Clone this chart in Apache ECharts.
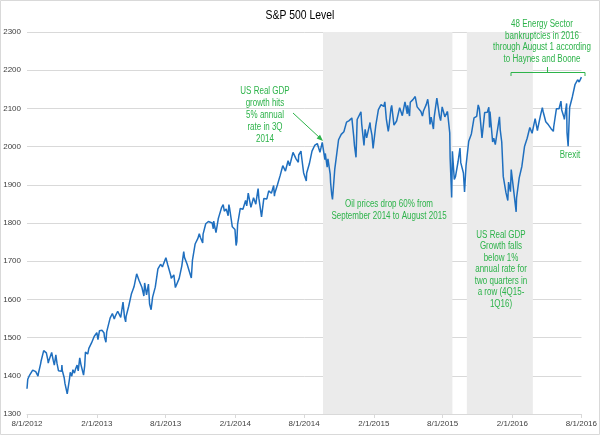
<!DOCTYPE html>
<html><head><meta charset="utf-8">
<script src="https://cdn.jsdelivr.net/npm/echarts@6/dist/echarts.min.js"></script>
<style>html,body{margin:0;padding:0;background:#fff}#c{width:600px;height:435px}</style>
</head><body><div id="c"></div>
<script>
// ---- data ----
const dates = [
'2012-08-01','2012-08-03','2012-08-08','2012-08-10','2012-08-16','2012-08-17','2012-08-21','2012-08-24','2012-08-28','2012-08-30','2012-08-31',
'2012-09-04','2012-09-06','2012-09-07','2012-09-12','2012-09-14','2012-09-19','2012-09-21','2012-09-25','2012-09-26','2012-09-28',
'2012-10-02','2012-10-05','2012-10-09','2012-10-12','2012-10-16','2012-10-18','2012-10-19','2012-10-23','2012-10-26','2012-10-31',
'2012-11-01','2012-11-02','2012-11-07','2012-11-09','2012-11-15','2012-11-16','2012-11-21','2012-11-23','2012-11-27','2012-11-30',
'2012-12-04','2012-12-07','2012-12-11','2012-12-14','2012-12-18','2012-12-21','2012-12-28','2012-12-31',
'2013-01-02','2013-01-04','2013-01-08','2013-01-11','2013-01-15','2013-01-18','2013-01-25','2013-01-30','2013-02-01','2013-02-04',
'2013-02-08','2013-02-15','2013-02-20','2013-02-21','2013-02-25','2013-02-27','2013-03-01','2013-03-08','2013-03-14','2013-03-19',
'2013-03-22','2013-03-28','2013-04-05','2013-04-11','2013-04-15','2013-04-18','2013-04-19','2013-04-26','2013-05-01','2013-05-03',
'2013-05-10','2013-05-17','2013-05-21','2013-05-23','2013-05-31','2013-06-05','2013-06-07','2013-06-12','2013-06-17','2013-06-20',
'2013-06-24','2013-06-28','2013-07-05','2013-07-12','2013-07-19','2013-07-24','2013-07-26','2013-08-02','2013-08-07','2013-08-09',
'2013-08-15','2013-08-16','2013-08-20','2013-08-23','2013-08-27','2013-08-30','2013-09-06','2013-09-13','2013-09-18','2013-09-20',
'2013-09-27','2013-10-01','2013-10-08','2013-10-11','2013-10-18','2013-10-25','2013-10-29','2013-11-01','2013-11-07','2013-11-08',
'2013-11-15','2013-11-22','2013-11-27','2013-12-02','2013-12-05','2013-12-06','2013-12-12','2013-12-13','2013-12-18','2013-12-20',
'2013-12-27','2013-12-31',
'2014-01-03','2014-01-08','2014-01-10','2014-01-13','2014-01-15','2014-01-17','2014-01-24','2014-01-28','2014-01-31','2014-02-03',
'2014-02-05','2014-02-07','2014-02-14','2014-02-21','2014-02-28','2014-03-03','2014-03-07','2014-03-14','2014-03-21','2014-03-27',
'2014-03-28','2014-04-02','2014-04-04','2014-04-11','2014-04-17','2014-04-25','2014-04-30','2014-05-02','2014-05-07','2014-05-09',
'2014-05-13','2014-05-15','2014-05-16','2014-05-23','2014-05-30','2014-06-06','2014-06-13','2014-06-20','2014-06-24','2014-06-27',
'2014-07-03','2014-07-11','2014-07-17','2014-07-18','2014-07-24','2014-07-25','2014-07-31','2014-08-07','2014-08-08','2014-08-15',
'2014-08-22','2014-08-29','2014-09-05','2014-09-12','2014-09-18','2014-09-19','2014-09-25','2014-09-26','2014-10-01','2014-10-03',
'2014-10-09','2014-10-10','2014-10-13','2014-10-15','2014-10-17','2014-10-21','2014-10-24','2014-10-31','2014-11-07','2014-11-14',
'2014-11-21','2014-11-28','2014-12-05','2014-12-10','2014-12-12','2014-12-16','2014-12-19','2014-12-29','2014-12-31',
'2015-01-02','2015-01-06','2015-01-09','2015-01-13','2015-01-16','2015-01-22','2015-01-23','2015-01-27','2015-01-30','2015-02-06',
'2015-02-13','2015-02-20','2015-02-25','2015-02-27','2015-03-02','2015-03-06','2015-03-11','2015-03-13','2015-03-18','2015-03-20',
'2015-03-26','2015-03-27','2015-04-02','2015-04-10','2015-04-17','2015-04-24','2015-04-30','2015-05-01','2015-05-06','2015-05-08',
'2015-05-15','2015-05-21','2015-05-26','2015-05-29','2015-06-05','2015-06-09','2015-06-12','2015-06-19','2015-06-23','2015-06-26',
'2015-06-29','2015-07-02','2015-07-08','2015-07-10','2015-07-17','2015-07-20','2015-07-24','2015-07-27','2015-07-31','2015-08-05',
'2015-08-07','2015-08-14','2015-08-18','2015-08-20','2015-08-21','2015-08-24','2015-08-25','2015-08-27','2015-08-28','2015-09-01',
'2015-09-04','2015-09-11','2015-09-16','2015-09-18','2015-09-25','2015-09-28','2015-10-02','2015-10-09','2015-10-16','2015-10-23',
'2015-10-30','2015-11-03','2015-11-06','2015-11-13','2015-11-20','2015-11-27','2015-12-01','2015-12-03','2015-12-04','2015-12-11',
'2015-12-14','2015-12-18','2015-12-29','2015-12-31',
'2016-01-04','2016-01-08','2016-01-15','2016-01-20','2016-01-22','2016-01-27','2016-01-29','2016-02-05','2016-02-11','2016-02-12',
'2016-02-19','2016-02-26','2016-03-04','2016-03-11','2016-03-18','2016-03-24','2016-04-01','2016-04-07','2016-04-08','2016-04-15',
'2016-04-20','2016-04-22','2016-04-29','2016-05-06','2016-05-13','2016-05-19','2016-05-20','2016-05-27','2016-06-03','2016-06-08',
'2016-06-10','2016-06-16','2016-06-17','2016-06-23','2016-06-24','2016-06-27','2016-07-01','2016-07-08','2016-07-15','2016-07-22',
'2016-07-26','2016-07-29','2016-08-01'
];
const spx = [
1366,1391,1402,1406,1415,1418,1413,1411,1410,1399,1406,
1404,1432,1438,1436,1466,1461,1460,1441,1433,1441,
1445,1461,1441,1428,1455,1457,1433,1413,1411,1412,
1428,1414,1395,1380,1353,1359,1392,1409,1399,1416,
1407,1418,1428,1413,1447,1430,1402,1426,
1462,1466,1457,1472,1472,1486,1503,1501,1513,1495,
1518,1519,1512,1502,1488,1515,1518,1551,1563,1549,
1557,1569,1553,1593,1553,1541,1555,1582,1582,1614,
1633,1667,1669,1650,1631,1609,1643,1612,1640,1588,
1573,1606,1632,1680,1692,1685,1691,1709,1690,1691,
1662,1655,1652,1664,1631,1633,1655,1688,1725,1710,
1692,1695,1656,1703,1745,1759,1772,1762,1748,1771,
1798,1804,1807,1800,1785,1805,1775,1775,1811,1818,
1841,1848,
1831,1837,1842,1819,1848,1838,1790,1792,1783,1741,
1751,1797,1838,1836,1859,1845,1878,1841,1866,1849,
1857,1890,1865,1816,1864,1863,1884,1881,1878,1878,
1898,1870,1878,1900,1924,1950,1936,1963,1950,1961,
1985,1968,1959,1978,1988,1978,1931,1910,1931,1955,
1988,2003,2008,1985,2011,2010,1966,1982,1946,1968,
1928,1906,1874,1862,1887,1941,1964,2018,2032,2039,
2064,2068,2075,2026,2002,1972,2071,2091,2059,
2058,2003,2045,2023,2019,2063,2051,2030,1995,2055,
2097,2110,2114,2105,2117,2071,2040,2053,2099,2108,
2056,2061,2067,2102,2081,2117,2086,2108,2080,2116,
2123,2131,2104,2107,2092,2080,2094,2110,2124,2101,
2058,2077,2046,2077,2127,2128,2079,2068,2104,2100,
2078,2092,2096,2036,1971,1893,1867,1988,1989,1914,
1921,1961,1996,1958,1931,1881,1951,2014,2033,2075,
2079,2109,2099,2023,2089,2090,2103,2050,2092,2012,
2022,2005,2078,2044,
2012,1922,1880,1859,1907,1882,1940,1880,1829,1865,
1918,1948,2000,2022,2050,2035,2073,2042,2048,2081,
2102,2092,2065,2057,2047,2040,2052,2099,2099,2119,
2096,2077,2071,2113,2037,2001,2103,2130,2162,2175,
2169,2174,2182
];
const tickDates = ['2012-08-01','2013-02-01','2013-08-01','2014-02-01','2014-08-01','2015-02-01','2015-08-01','2016-02-01','2016-08-01'];
const tickLabels = ['8/1/2012','2/1/2013','8/1/2013','2/1/2014','8/1/2014','2/1/2015','8/1/2015','2/1/2016','8/1/2016'];
const shadedRanges = [['2014-09-20','2015-08-27'],['2015-10-04','2016-03-26']];
const yMin = 1300, yMax = 2300, yStep = 100;

function ts(s){ const p = s.split('-'); return Date.UTC(+p[0], +p[1]-1, +p[2]); }
const tickTs = tickDates.map(ts);
const series = dates.map((d,i)=>[ts(d), spx[i]]);

const GREEN = '#2db34a';
const FONT = "'Liberation Sans',Arial,sans-serif";
const SX = 0.8; // emulate the narrow typeface of the original

function txt(lines, cx, cy0, lh, size, color){
  return { type:'text', silent:true, z:100, x:cx, y:cy0 - lh/2, scaleX:SX,
    style:{ text: lines.join('\n'), x:0, y:0, align:'center', verticalAlign:'top',
      lineHeight: lh, fill: color || GREEN, font: (size||10)+'px ' + FONT } };
}

const chart = echarts.init(document.getElementById('c'), null, {renderer:'canvas'});
chart.setOption({
  animation:false,
  backgroundColor:'#fff',
  grid:{ left:27, right:16, top:32, bottom:21, containLabel:false },
  xAxis:{ type:'value', min:tickTs[0], max:tickTs[tickTs.length-1],
    axisLine:{ show:true, lineStyle:{ color:'#d9d9d9' } },
    axisTick:{ show:true, customValues: tickTs, length:4, lineStyle:{ color:'#d9d9d9' } },
    axisLabel:{ customValues: tickTs, fontSize:8, color:'#404040', fontFamily:FONT, margin:6,
      formatter:(v)=>{ const i = tickTs.indexOf(v); return i>=0 ? tickLabels[i] : ''; } },
    splitLine:{ show:false } },
  yAxis:{ type:'value', min:yMin, max:yMax, interval:yStep,
    axisLine:{ show:false }, axisTick:{ show:false },
    axisLabel:{ fontSize:8, color:'#404040', fontFamily:FONT, margin:6, formatter:(v)=>String(v) },
    splitLine:{ show:true, lineStyle:{ color:'#d9d9d9', width:1 } } },
  series:[{
    type:'line', data: series, showSymbol:false, symbol:'none',
    lineStyle:{ color:'#1f6fbf', width:1.5 }, z:3,
    markArea:{ silent:true, itemStyle:{ color:'#ebebeb' }, z:1,
      data: shadedRanges.map(r=>[{xAxis: ts(r[0])},{xAxis: ts(r[1])}]) }
  }],
  graphic:[
    { type:'rect', silent:true, z:100, shape:{x:0.5,y:0.5,width:599,height:434},
      style:{ fill:'none', stroke:'#d9d9d9', lineWidth:1 } },
    txt(['S&P 500 Level'], 300, 15, 14, 13, '#000'),
    txt(['US Real GDP','growth hits','5% annual','rate in 3Q','2014'], 265, 91, 12),
    { type:'line', silent:true, z:100, shape:{x1:293,y1:113,x2:320,y2:138}, style:{ stroke:GREEN, lineWidth:1 } },
    { type:'polygon', silent:true, z:100, shape:{ points:[[323,141],[316.6,138.4],[320,134.8]] }, style:{ fill:GREEN } },
    txt(['Oil prices drop 60% from','September 2014 to August 2015'], 389, 204, 12),
    txt(['US Real GDP','Growth falls','below 1%','annual rate for','two quarters in','a row (4Q15-','1Q16)'], 501, 235, 11.5),
    txt(['48 Energy Sector','bankruptcies in 2016','through August 1 according','to Haynes and Boone'], 542, 24, 11.8),
    { type:'polyline', silent:true, z:100, shape:{ points:[[511,76],[511,72.5],[585,72.5],[585,76]] }, style:{ stroke:GREEN, lineWidth:1, fill:null } },
    { type:'line', silent:true, z:100, shape:{ x1:547.5,y1:72.5,x2:547.5,y2:67 }, style:{ stroke:GREEN, lineWidth:1 } },
    txt(['Brexit'], 570, 155, 12)
  ]
});
</script></body></html>
